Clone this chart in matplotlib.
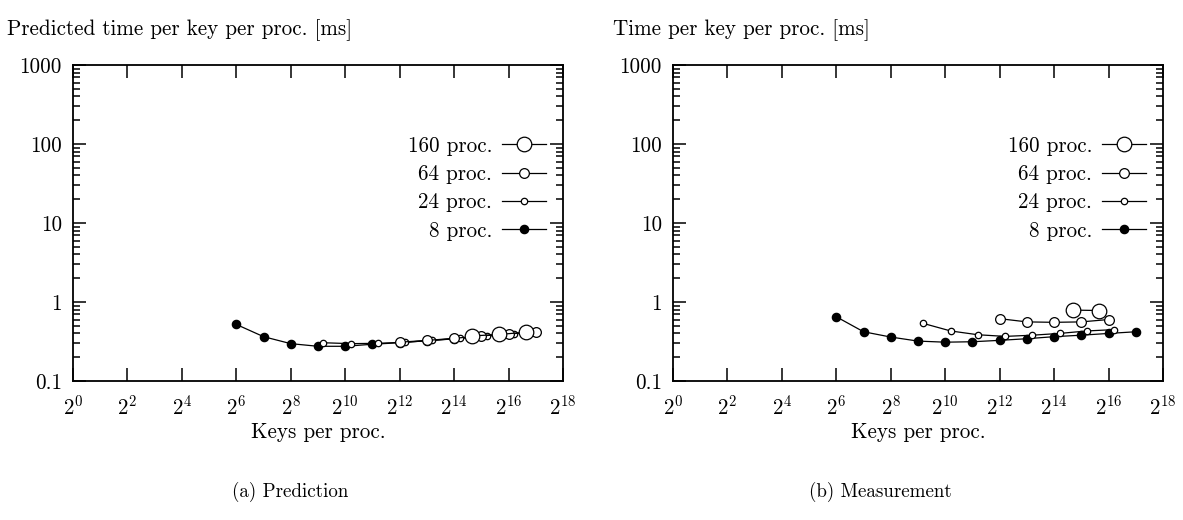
import matplotlib
matplotlib.use("Agg")
import matplotlib.pyplot as plt
from matplotlib.ticker import FixedLocator, FixedFormatter, NullLocator, NullFormatter

plt.rcParams["font.family"] = ["cmr10", "DejaVu Serif"]
plt.rcParams["mathtext.fontset"] = "cm"
plt.rcParams["axes.unicode_minus"] = False
plt.rcParams["axes.formatter.use_mathtext"] = True

# ---------------------------------------------------------------------------
# Data (keys per proc. given as log2 exponents, times in ms)
# ---------------------------------------------------------------------------
pred_8_exp = [6, 7, 8, 9, 10, 11, 12, 13, 14, 15, 16, 17]
pred_8_ms = [0.52, 0.364, 0.297, 0.275, 0.275, 0.292, 0.305, 0.324, 0.343, 0.37, 0.393, 0.413]
pred_24_exp = [9.2, 10.2, 11.2, 12.2, 13.2, 14.2, 15.2, 16.2]
pred_24_ms = [0.305, 0.297, 0.30, 0.31, 0.326, 0.346, 0.37, 0.392]
pred_64_exp = [12, 13, 14, 15, 16, 17]
pred_64_ms = [0.31, 0.326, 0.347, 0.372, 0.394, 0.415]
pred_160_exp = [14.65, 15.65, 16.65]
pred_160_ms = [0.372, 0.388, 0.415]

meas_8_exp = [6, 7, 8, 9, 10, 11, 12, 13, 14, 15, 16, 17]
meas_8_ms = [0.65, 0.42, 0.36, 0.32, 0.31, 0.314, 0.327, 0.343, 0.364, 0.38, 0.40, 0.42]
meas_24_exp = [9.2, 10.2, 11.2, 12.2, 13.2, 14.2, 15.2, 16.2]
meas_24_ms = [0.535, 0.43, 0.385, 0.367, 0.38, 0.40, 0.43, 0.447]
meas_64_exp = [12, 13, 14, 15, 16]
meas_64_ms = [0.615, 0.56, 0.553, 0.56, 0.60]
meas_160_exp = [14.68, 15.66]
meas_160_ms = [0.79, 0.78]

series_labels = ["160 proc.", "64 proc.", "24 proc.", "8 proc."]
x_tick_exps = [0, 2, 4, 6, 8, 10, 12, 14, 16, 18]
y_ticks = [0.1, 1, 10, 100, 1000]
y_tick_labels = ["0.1", "1", "10", "100", "1000"]

titles = ["Predicted time per key per proc. [ms]", "Time per key per proc. [ms]"]
captions = ["(a) Prediction", "(b) Measurement"]
xlabel = "Keys per proc."

FS = 15.2


def draw_panel(ax, data):
    styles = {
        "160 proc.": dict(marker="o", ms=10.5, mfc="white", mec="black"),
        "64 proc.": dict(marker="o", ms=7.0, mfc="white", mec="black"),
        "24 proc.": dict(marker="o", ms=4.6, mfc="white", mec="black"),
        "8 proc.": dict(marker="o", ms=6.0, mfc="black", mec="black"),
    }
    for label in ["8 proc.", "24 proc.", "64 proc.", "160 proc."]:
        exps, vals = data[label]
        xs = [2.0 ** e for e in exps]
        ax.plot(xs, vals, color="black", lw=0.9, mew=0.9, label=label, **styles[label])

    ax.set_xscale("log", base=2)
    ax.set_yscale("log")
    ax.set_xlim(2.0 ** 0, 2.0 ** 18)
    ax.set_ylim(0.1, 1000)

    ax.xaxis.set_major_locator(FixedLocator([2.0 ** e for e in x_tick_exps]))
    ax.xaxis.set_major_formatter(FixedFormatter([r"$2^{%d}$" % e for e in x_tick_exps]))
    ax.xaxis.set_minor_locator(NullLocator())
    ax.yaxis.set_major_locator(FixedLocator(y_ticks))
    ax.yaxis.set_major_formatter(FixedFormatter(y_tick_labels))
    minors = [m * 10.0 ** d for d in range(-1, 3) for m in range(2, 10)]
    ax.yaxis.set_minor_locator(FixedLocator(minors))
    ax.yaxis.set_minor_formatter(NullFormatter())

    ax.tick_params(which="both", direction="in", top=True, right=True, width=1.1,
                   labelsize=FS, colors="black")
    ax.tick_params(which="major", length=9.5, pad=8)
    ax.tick_params(axis="x", which="major", pad=10)
    ax.tick_params(which="minor", length=5)
    for sp in ax.spines.values():
        sp.set_linewidth(1.3)

    ax.set_xlabel(xlabel, fontsize=FS, labelpad=3)

    handles, labels = ax.get_legend_handles_labels()
    order = [labels.index(l) for l in series_labels]
    ax.legend([handles[i] for i in order], [labels[i] for i in order],
              loc="upper right", bbox_to_anchor=(0.965, 0.775), frameon=False,
              markerfirst=False, fontsize=FS, handlelength=2.1, handletextpad=0.45,
              labelspacing=0.42, borderaxespad=0, borderpad=0)


fig = plt.figure(figsize=(11.83, 5.2), dpi=100)
ax_pred = fig.add_axes([73 / 1183, 1 - 381 / 520, 490 / 1183, 316 / 520])
ax_meas = fig.add_axes([673 / 1183, 1 - 381 / 520, 490 / 1183, 316 / 520])

draw_panel(ax_pred, {
    "8 proc.": (pred_8_exp, pred_8_ms),
    "24 proc.": (pred_24_exp, pred_24_ms),
    "64 proc.": (pred_64_exp, pred_64_ms),
    "160 proc.": (pred_160_exp, pred_160_ms),
})
draw_panel(ax_meas, {
    "8 proc.": (meas_8_exp, meas_8_ms),
    "24 proc.": (meas_24_exp, meas_24_ms),
    "64 proc.": (meas_64_exp, meas_64_ms),
    "160 proc.": (meas_160_exp, meas_160_ms),
})

# titles above each panel, left aligned
fig.text(7 / 1183, 1 - 30 / 520, titles[0], fontsize=FS, ha="left", va="center")
fig.text(613 / 1183, 1 - 30 / 520, titles[1], fontsize=FS, ha="left", va="center")

# sub-captions
fig.text(290 / 1183, 1 - 492 / 520, captions[0], fontsize=FS * 0.9, ha="center", va="center")
fig.text(880 / 1183, 1 - 492 / 520, captions[1], fontsize=FS * 0.9, ha="center", va="center")

fig.savefig("out.png", dpi=100)
